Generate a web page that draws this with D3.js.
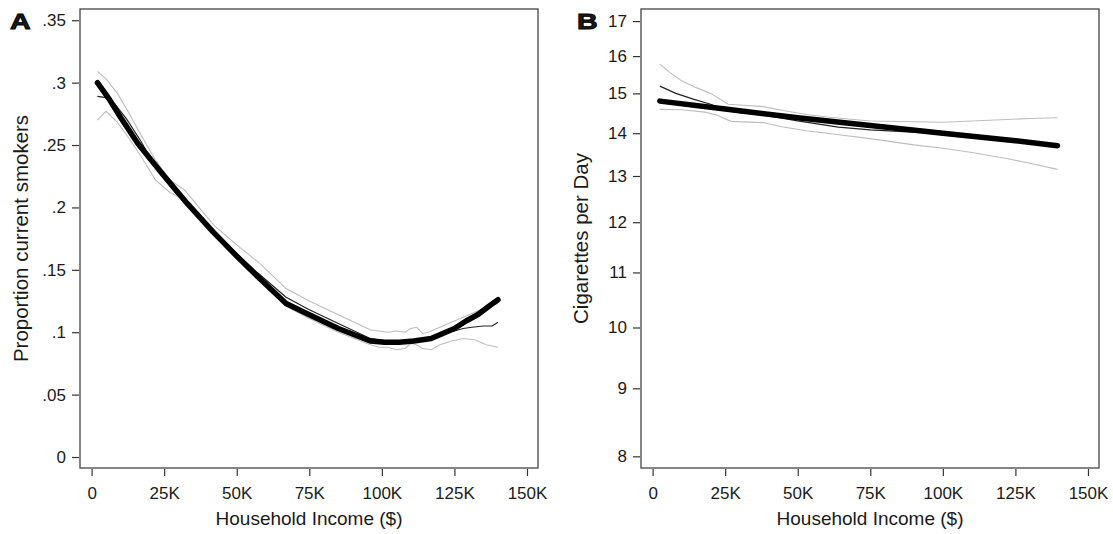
<!DOCTYPE html>
<html>
<head>
<meta charset="utf-8">
<script src="https://cdn.jsdelivr.net/npm/d3@7"></script>
<style>
  body { margin: 0; background: #fff; }
  text { font-family: Helvetica, "Liberation Sans", Arial, sans-serif; fill: #1a1a1a; }
</style>
</head>
<body>
<div id="chart"></div>
<script>
// Household income in $K
var ticksX = [0, 25, 50, 75, 100, 125, 150];

// Panel A: proportion of current smokers
var ticksA = [0, 0.05, 0.1, 0.15, 0.2, 0.25, 0.3, 0.35];
var fitAx = [2, 6, 10, 16, 24, 33, 42, 50, 57, 62, 67, 75, 85, 96, 101, 106, 111, 117, 121, 125, 129, 133, 137, 140];
var fitAy = [.300, .287, .272, .251, .228, .203, .180, .161, .145, .134, .123, .114, .103, .093, .092, .092, .093, .095, .099, .103, .109, .114, .121, .126];
var rawAx = [2, 5, 8, 12, 17, 22, 28, 35, 42, 50, 57, 62, 67, 75, 85, 96, 101, 106, 111, 117, 121, 125, 128, 131, 135, 138, 140];
var rawAy = [.289, .288, .283, .271, .253, .232, .214, .197, .181, .163, .148, .138, .128, .118, .107, .095, .093, .093, .094, .096, .099, .101, .103, .104, .105, .105, .108];
var hiAx = [2, 5, 9, 13, 17, 22, 27, 32, 37, 42, 50, 58, 67, 75, 85, 96, 99, 102, 105, 108, 110, 112, 114, 116, 119, 123, 127, 131, 135, 140];
var hiAy = [.309, .303, .291, .275, .258, .238, .222, .214, .200, .186, .170, .155, .135, .125, .114, .102, .101, .100, .101, .100, .103, .104, .099, .100, .103, .107, .111, .115, .119, .123];
var loAx = [2, 5, 9, 13, 17, 22, 27, 33, 38, 42, 50, 58, 67, 75, 85, 96, 99, 102, 105, 108, 110, 112, 114, 117, 120, 124, 128, 132, 136, 140];
var loAy = [.270, .277, .268, .255, .241, .222, .212, .205, .190, .178, .160, .143, .121, .111, .100, .090, .088, .088, .086, .087, .091, .090, .087, .086, .090, .093, .095, .094, .090, .088];

// Panel B: cigarettes per day (log scale)
var ticksB = [8, 9, 10, 11, 12, 13, 14, 15, 16, 17];
var fitBx = [2.5, 25, 50, 75, 100, 125, 139.5];
var fitBy = [14.80, 14.60, 14.38, 14.19, 14.00, 13.82, 13.70];
var rawBx = [2.5, 8, 14, 20, 26, 30, 38, 50, 64, 75, 88, 100, 120, 139.5];
var rawBy = [15.19, 15.00, 14.85, 14.72, 14.55, 14.51, 14.45, 14.30, 14.15, 14.08, 14.03, 14.00, 13.84, 13.70];
var hiBx = [2.5, 6, 10, 15, 20, 26, 30, 38, 45, 53, 60, 75, 90, 100, 110, 120, 130, 139.5];
var hiBy = [15.78, 15.55, 15.33, 15.15, 15.00, 14.72, 14.70, 14.66, 14.56, 14.46, 14.40, 14.30, 14.28, 14.27, 14.30, 14.33, 14.36, 14.38];
var loBx = [2.5, 10, 18, 22, 27, 38, 45, 53, 60, 75, 90, 100, 110, 122, 130, 139.5];
var loBy = [14.59, 14.58, 14.52, 14.45, 14.29, 14.26, 14.15, 14.06, 14.00, 13.87, 13.72, 13.64, 13.54, 13.40, 13.29, 13.15];

var svg = d3.select('#chart')
  .append('svg')
  .attr('width', 1113)
  .attr('height', 534);

function zip(xs, ys) {
  return xs.map(function(x, i) { return [x, ys[i]]; });
}

function drawPanel(opt) {
  var x = d3.scaleLinear().domain([-4, 153.8]).range([opt.left, opt.left + 458]);
  var y = opt.y;
  var top = 9, bottom = 468;
  var g = svg.append('g');

  // frame
  g.append('rect')
    .attr('x', opt.left)
    .attr('y', top)
    .attr('width', 458)
    .attr('height', bottom - top)
    .attr('fill', 'none')
    .attr('stroke', '#444')
    .attr('stroke-width', 1.3);

  // axes
  var ax = g.append('g')
    .attr('transform', 'translate(0,' + (bottom + 1) + ')')
    .call(d3.axisBottom(x).tickValues(ticksX).tickSize(7).tickPadding(11)
      .tickFormat(function(d) { return d === 0 ? '0' : d + 'K'; }));
  var ay = g.append('g')
    .attr('transform', 'translate(' + (opt.left - 1) + ',0)')
    .call(d3.axisLeft(y).tickValues(opt.ticks).tickSize(7).tickPadding(6)
      .tickFormat(opt.fmt));
  [ax, ay].forEach(function(a) {
    a.select('.domain').remove();
    a.selectAll('line').attr('stroke', '#333').attr('stroke-width', 1.2);
    a.selectAll('text').attr('font-size', 17).attr('fill', '#1a1a1a')
      .attr('font-family', 'Helvetica, "Liberation Sans", Arial, sans-serif');
  });

  // axis titles
  g.append('text')
    .attr('x', opt.left + 229)
    .attr('y', 525)
    .attr('text-anchor', 'middle')
    .attr('font-size', 19)
    .text('Household Income ($)');
  g.append('text')
    .attr('transform', 'translate(' + opt.titleX + ',238.5) rotate(-90)')
    .attr('text-anchor', 'middle')
    .attr('font-size', 20.5)
    .text(opt.title);

  // panel letter
  g.append('text')
    .attr('transform', 'translate(' + opt.letterX + ',28.5) scale(1.3,1)')
    .attr('font-size', 22)
    .attr('font-weight', 'bold')
    .attr('fill', '#000')
    .attr('stroke', '#000')
    .attr('stroke-width', 0.9)
    .text(opt.letter);

  var line = d3.line()
    .x(function(d) { return x(d[0]); })
    .y(function(d) { return y(d[1]); });

  // confidence bands, raw curve, then fitted curve on top
  [opt.hi, opt.lo].forEach(function(s) {
    g.append('path').datum(s)
      .attr('d', line)
      .attr('fill', 'none')
      .attr('stroke', '#bdbdbd')
      .attr('stroke-width', 1.1);
  });
  g.append('path').datum(opt.raw)
    .attr('d', line)
    .attr('fill', 'none')
    .attr('stroke', '#222')
    .attr('stroke-width', 1.2);
  g.append('path').datum(opt.fit)
    .attr('d', line)
    .attr('fill', 'none')
    .attr('stroke', '#000')
    .attr('stroke-width', 5.5)
    .attr('stroke-linecap', 'round')
    .attr('stroke-linejoin', 'round');
}

drawPanel({
  left: 80,
  y: d3.scaleLinear().domain([-0.0088, 0.359]).range([468, 9]),
  ticks: ticksA,
  fmt: function(d) { return d === 0 ? '0' : d3.format('.2~f')(d).replace(/^0/, ''); },
  title: 'Proportion current smokers',
  titleX: 28,
  letter: 'A',
  letterX: 10,
  fit: zip(fitAx, fitAy),
  raw: zip(rawAx, rawAy),
  hi: zip(hiAx, hiAy),
  lo: zip(loAx, loAy)
});

drawPanel({
  left: 641,
  y: d3.scaleLog().domain([7.84, 17.36]).range([468, 9]),
  ticks: ticksB,
  fmt: function(d) { return String(d); },
  title: 'Cigarettes per Day',
  titleX: 588,
  letter: 'B',
  letterX: 577,
  fit: zip(fitBx, fitBy),
  raw: zip(rawBx, rawBy),
  hi: zip(hiBx, hiBy),
  lo: zip(loBx, loBy)
});
</script>
</body>
</html>
